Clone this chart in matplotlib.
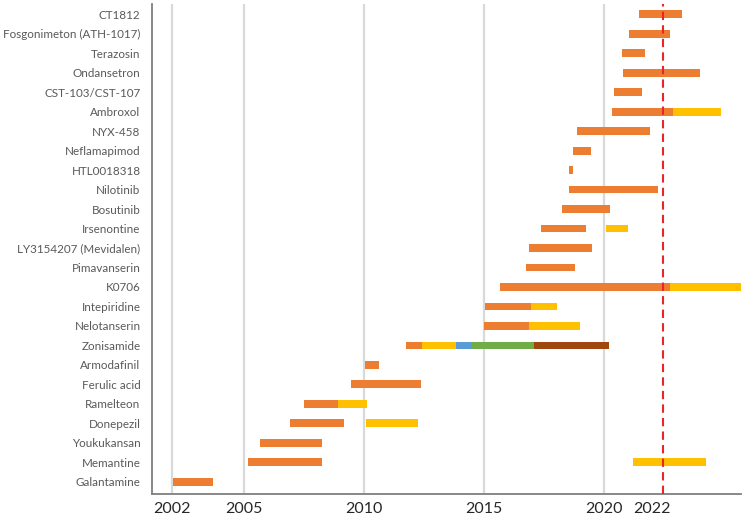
import matplotlib
matplotlib.use("Agg")
import matplotlib.pyplot as plt

drugs = ["Galantamine", "Memantine", "Youkukansan", "Donepezil", "Ramelteon",
         "Ferulic acid", "Armodafinil", "Zonisamide", "Nelotanserin", "Intepiridine",
         "K0706", "Pimavanserin", "LY3154207 (Mevidalen)", "Irsenontine", "Bosutinib",
         "Nilotinib", "HTL0018318", "Neflamapimod", "NYX-458", "Ambroxol",
         "CST-103/CST-107", "Ondansetron", "Terazosin", "Fosgonimeton (ATH-1017)", "CT1812"]

seg_drug = ["Galantamine", "Memantine", "Memantine", "Youkukansan", "Donepezil", "Donepezil",
            "Ramelteon", "Ramelteon", "Ferulic acid", "Armodafinil",
            "Zonisamide", "Zonisamide", "Zonisamide", "Zonisamide", "Zonisamide",
            "Nelotanserin", "Nelotanserin", "Intepiridine", "Intepiridine",
            "K0706", "K0706", "Pimavanserin", "LY3154207 (Mevidalen)",
            "Irsenontine", "Irsenontine", "Bosutinib", "Nilotinib", "HTL0018318",
            "Neflamapimod", "NYX-458", "Ambroxol", "Ambroxol", "CST-103/CST-107",
            "Ondansetron", "Terazosin", "Fosgonimeton (ATH-1017)", "CT1812"]
seg_start = [2002.05, 2005.2, 2021.2, 2005.7, 2006.95, 2010.1,
             2007.5, 2008.95, 2009.48, 2010.06,
             2011.78, 2012.44, 2013.85, 2014.52, 2017.08,
             2015.0, 2016.87, 2015.05, 2016.96,
             2015.7, 2022.75, 2016.75, 2016.9,
             2017.38, 2020.1, 2018.26, 2018.54, 2018.54,
             2018.71, 2018.9, 2020.35, 2022.9, 2020.44,
             2020.79, 2020.75, 2021.04, 2021.46]
seg_end = [2003.72, 2008.28, 2024.27, 2008.27, 2009.2, 2012.25,
           2008.95, 2010.13, 2012.38, 2010.64,
           2012.44, 2013.85, 2014.52, 2017.08, 2020.22,
           2016.87, 2019.0, 2016.96, 2018.04,
           2022.75, 2025.8, 2018.82, 2019.53,
           2019.26, 2021.0, 2020.26, 2022.26, 2018.71,
           2019.46, 2021.94, 2022.9, 2024.9, 2021.61,
           2024.0, 2021.72, 2022.76, 2023.27]
seg_phase = ["o", "o", "y", "o", "o", "y",
             "o", "y", "o", "o",
             "o", "y", "b", "g", "r",
             "o", "y", "o", "y",
             "o", "y", "o", "o",
             "o", "y", "o", "o", "o",
             "o", "o", "o", "y", "o",
             "o", "o", "o", "o"]

phase_colors = {"o": "#ED7D31", "y": "#FFC000", "b": "#5B9BD5", "g": "#70AD47", "r": "#9E480E"}

x_ticks = [2002, 2005, 2010, 2015, 2020, 2022]
grid_years = [2002, 2005, 2010, 2015, 2020]
today = 2022.47

fig = plt.figure(figsize=(7.46, 5.16), dpi=100)
ax = fig.add_axes([151.7 / 746, 1 - 494 / 516, (741 - 151.7) / 746, 490 / 516])

for g in grid_years:
    ax.axvline(g, color="#D9D9D9", lw=1.6, zorder=0)

ypos = {d: i for i, d in enumerate(drugs)}
for d, s, e, p in zip(seg_drug, seg_start, seg_end, seg_phase):
    ax.barh(ypos[d], e - s, left=s, height=0.4, color=phase_colors[p], zorder=2)

ax.axvline(today, color="#E8262A", lw=1.5, ls=(0, (4, 2.5)), zorder=3)

ax.set_xlim(2001.17, 2025.72)
ax.set_ylim(-0.63, len(drugs) - 1 + 0.53)
ax.set_yticks(range(len(drugs)))
ax.set_yticklabels(drugs, fontsize=8.4, color="#595959", family="Lato")
ax.set_xticks(x_ticks)
ax.set_xticklabels([str(t) for t in x_ticks], fontsize=11.5, color="#262626", family="Lato")
ax.tick_params(axis="both", length=0)
ax.tick_params(axis="y", pad=8)
ax.tick_params(axis="x", pad=6)
for s in ["top", "right"]:
    ax.spines[s].set_visible(False)
for s in ["left", "bottom"]:
    ax.spines[s].set_color("#7F7F7F")
    ax.spines[s].set_linewidth(1.3)

fig.savefig("out.png", dpi=100)
